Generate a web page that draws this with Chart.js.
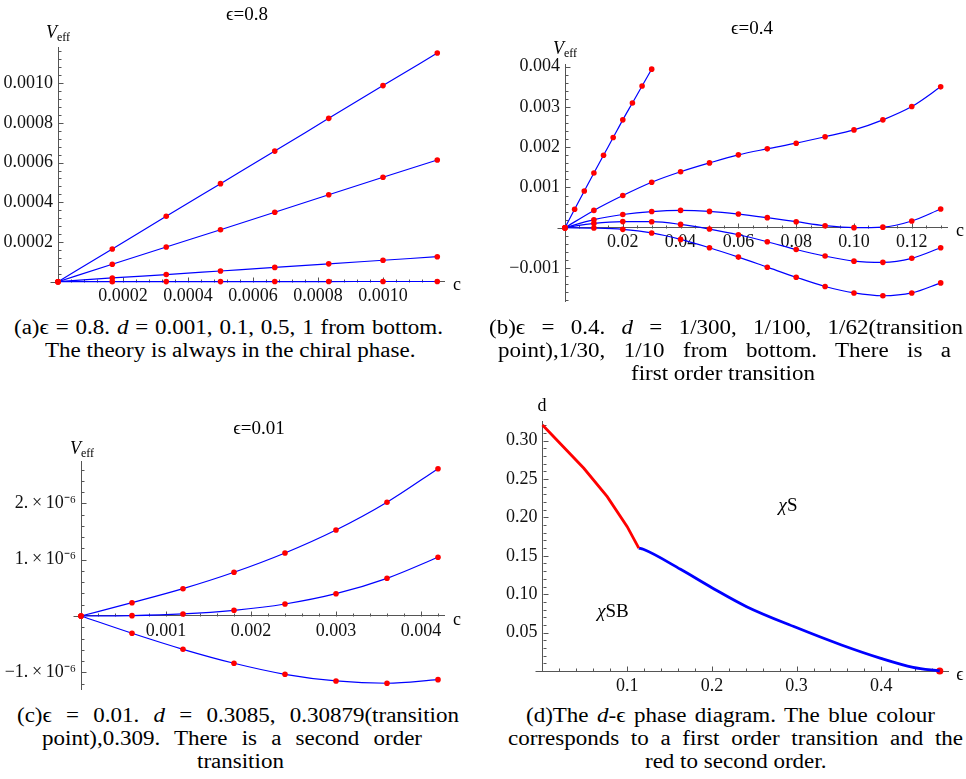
<!DOCTYPE html>
<html>
<head>
<meta charset="utf-8">
<script src="https://cdn.jsdelivr.net/npm/chart.js@4.4.1/dist/chart.umd.min.js"></script>
<style>
  body { margin: 0; width: 966px; height: 779px; position: relative; overflow: hidden; background: #fff;
         font-family: "Liberation Serif", "Times New Roman", serif; color: #000; }
  .panel { position: absolute; width: 483px; height: 310px; }
  .lbl { position: absolute; white-space: nowrap; transform: translate(-50%, -50%); font-size: 18px; line-height: 1; }
  .lbl sub { font-size: 12px; vertical-align: -3px; }
  .ttl { font-size: 19px; }
  .cap { position: absolute; font-size: 20px; line-height: 23px; white-space: nowrap; transform-origin: 0 0; }
</style>
</head>
<body>

<div class="panel" style="left:0;top:0"><canvas id="chartA" width="483" height="310"></canvas></div>
<div class="panel" style="left:483px;top:0"><canvas id="chartB" width="483" height="310"></canvas></div>
<div class="panel" style="left:0;top:390px"><canvas id="chartC" width="483" height="310"></canvas></div>
<div class="panel" style="left:483px;top:390px"><canvas id="chartD" width="483" height="310"></canvas></div>

<div class="lbl ttl" style="left:247px;top:13px">ϵ=0.8</div>
<div class="lbl" style="left:58px;top:33px"><i>V</i><sub>eff</sub></div>
<div class="lbl" style="left:457px;top:284px">c</div>

<div class="lbl ttl" style="left:752px;top:27px">ϵ=0.4</div>
<div class="lbl" style="left:565px;top:49px"><i>V</i><sub>eff</sub></div>
<div class="lbl" style="left:960px;top:230px">c</div>

<div class="lbl ttl" style="left:259px;top:427px">ϵ=0.01</div>
<div class="lbl" style="left:82px;top:449px"><i>V</i><sub>eff</sub></div>
<div class="lbl" style="left:457px;top:619px">c</div>

<div class="lbl" style="left:542px;top:405px">d</div>
<div class="lbl" style="left:960px;top:674px">ϵ</div>
<div class="lbl" style="left:788px;top:504px;font-size:19px"><i>χ</i>S</div>
<div class="lbl" style="left:613px;top:610px;font-size:19px"><i>χ</i>SB</div>

<div class="cap" style="top:316px" data-cx="228" data-w="429">(a)ϵ = 0.8. <i>d</i> = 0.001, 0.1, 0.5, 1 from bottom.</div>
<div class="cap" style="top:339px" data-cx="230">The theory is always in the chiral phase.</div>

<div class="cap" style="top:316px" data-cx="726" data-w="474">(b)ϵ = 0.4. <i>d</i> = 1/300, 1/100, 1/62(transition</div>
<div class="cap" style="top:339px" data-cx="724" data-w="453">point),1/30, 1/10 from bottom. There is a</div>
<div class="cap" style="top:362px" data-cx="723">first order transition</div>

<div class="cap" style="top:704px" data-cx="238" data-w="442">(c)ϵ = 0.01. <i>d</i> = 0.3085, 0.30879(transition</div>
<div class="cap" style="top:727px" data-cx="232" data-w="380">point),0.309. There is a second order</div>
<div class="cap" style="top:750px" data-cx="240">transition</div>

<div class="cap" style="top:704px" data-cx="730" data-w="409">(d)The <i>d</i>-ϵ phase diagram. The blue colour</div>
<div class="cap" style="top:727px" data-cx="735" data-w="455">corresponds to a first order transition and the</div>
<div class="cap" style="top:750px" data-cx="736">red to second order.</div>

<script>
// ---- (a) eps = 0.8 ----
const aC = [0, 0.000167, 0.000333, 0.0005, 0.000667, 0.000833, 0.001, 0.001167];
const aV001 = [0, 0.0000002, 0.0000004, 0.0000005, 0.0000007, 0.0000008, 0.000001, 0.0000011];
const aV01 = [0, 0.000019, 0.000036, 0.000054, 0.000072, 0.00009, 0.000108, 0.000126];
const aV05 = [0, 0.000088, 0.000175, 0.000262, 0.00035, 0.000438, 0.000526, 0.000613];
const aV1 = [0, 0.000165, 0.00033, 0.000494, 0.000658, 0.000823, 0.000988, 0.001152];
const aXTicks = [0.0002, 0.0004, 0.0006, 0.0008, 0.001];
const aXLabels = ['0.0002', '0.0004', '0.0006', '0.0008', '0.0010'];
const aYTicks = [0.0002, 0.0004, 0.0006, 0.0008, 0.001];
const aYLabels = ['0.0002', '0.0004', '0.0006', '0.0008', '0.0010'];

// ---- (b) eps = 0.4 ----
const bC = [0, 0.01, 0.02, 0.03, 0.04, 0.05, 0.06, 0.07, 0.08, 0.09, 0.10, 0.11, 0.12, 0.13];
const bCSteep = [0, 0.00333, 0.00667, 0.01, 0.01333, 0.01667, 0.02, 0.02333, 0.02667, 0.03];
const bV300 = [0, -0.000008, -0.00004, -0.00013, -0.00029, -0.000497, -0.00073, -0.00098, -0.00123, -0.00146, -0.00162, -0.00169, -0.00162, -0.00137];
const bV100 = [0, 0.000108, 0.000152, 0.00015, 0.000083, -0.000033, -0.000174, -0.000348, -0.00054, -0.000704, -0.00083, -0.00086, -0.00076, -0.000497];
const bV62 = [0, 0.0002, 0.000328, 0.000402, 0.00043, 0.000406, 0.00034, 0.00025, 0.00015, 0.00005, 0.000002, 0.000015, 0.000166, 0.000464];
const bV30 = [0, 0.00043, 0.0008, 0.00113, 0.00139, 0.00161, 0.00181, 0.00196, 0.0021, 0.00226, 0.00243, 0.00268, 0.00301, 0.0035];
const bV10 = [0, 0.00046, 0.000912, 0.00136, 0.0018, 0.00224, 0.00268, 0.0031, 0.00352, 0.00394];
const bXTicks = [0.02, 0.04, 0.06, 0.08, 0.10, 0.12];
const bXLabels = ['0.02', '0.04', '0.06', '0.08', '0.10', '0.12'];
const bYTicks = [-0.001, 0.001, 0.002, 0.003, 0.004];
const bYLabels = ['\u22120.001', '0.001', '0.002', '0.003', '0.004'];

// ---- (c) eps = 0.01 ----
const cC = [0, 0.0006, 0.0012, 0.0018, 0.0024, 0.003, 0.0036, 0.0042];
const cV3085 = [0, -0.307e-6, -0.592e-6, -0.84e-6, -1.036e-6, -1.154e-6, -1.195e-6, -1.131e-6];
const cV30879 = [0, 0.006e-6, 0.036e-6, 0.101e-6, 0.213e-6, 0.396e-6, 0.669e-6, 1.042e-6];
const cV309 = [0, 0.236e-6, 0.485e-6, 0.776e-6, 1.119e-6, 1.527e-6, 2.02e-6, 2.616e-6];
const cXTicks = [0.001, 0.002, 0.003, 0.004];
const cXLabels = ['0.001', '0.002', '0.003', '0.004'];
const cYTicks = [-1e-6, 1e-6, 2e-6];
const cYLabels = ['\u22121.\u2009\u00d7\u200910\u207b\u2076', '1.\u2009\u00d7\u200910\u207b\u2076', '2.\u2009\u00d7\u200910\u207b\u2076'];

// ---- (d) phase diagram ----
const secondEps = [0, 0.0488, 0.0764, 0.100, 0.1137];
const secondD = [0.3203, 0.264, 0.227, 0.188, 0.160];
const firstEps = [0.1137, 0.119, 0.163, 0.200, 0.241, 0.299, 0.353, 0.3995, 0.4376, 0.469];
const firstD = [0.160, 0.1585, 0.1324, 0.1085, 0.0838, 0.0569, 0.0339, 0.0165, 0.0048, 0];
const endEps = [0.469];
const endD = [0];
const dXTicks = [0.1, 0.2, 0.3, 0.4];
const dXLabels = ['0.1', '0.2', '0.3', '0.4'];
const dYTicks = [0.05, 0.10, 0.15, 0.20, 0.25, 0.30];
const dYLabels = ['0.05', '0.10', '0.15', '0.20', '0.25', '0.30'];

const AXIS = '#555';
const BLUE = '#0000ff';
const RED = '#ff0000';
const CAPTION_STRETCH = 1.15;

// caption lines: same glyph stretch everywhere; full lines get wider word gaps, the last line is centred
document.querySelectorAll('.cap').forEach((el) => {
  const natural = el.getBoundingClientRect().width;
  const s = CAPTION_STRETCH;
  const target = Number(el.dataset.w) || natural * s;
  const gaps = (el.textContent.match(/ /g) || []).length;
  if (target > natural * s && gaps) {
    el.style.wordSpacing = ((target / s - natural) / gaps) + 'px';
    el.style.transform = `scaleX(${s})`;
  } else {
    el.style.transform = `scaleX(${target / natural})`;
  }
  el.style.left = (Number(el.dataset.cx) - target / 2) + 'px';
});

Chart.defaults.font.family = '"Liberation Serif", "Times New Roman", serif';
Chart.defaults.font.size = 18;
Chart.defaults.color = '#111';
Chart.defaults.animation = false;

// Mathematica-style ticks: short marks pointing into the plot, longer at labelled values
const tickMarks = {
  id: 'tickMarks',
  beforeDatasetsDraw(chart) {
    const { ctx, scales: { x, y } } = chart;
    const x0 = Math.round(x.getPixelForValue(0)) + 0.5;
    const y0 = Math.round(y.getPixelForValue(0)) + 0.5;
    ctx.save();
    ctx.strokeStyle = AXIS;
    ctx.lineWidth = 1;
    ctx.beginPath();
    ctx.moveTo(x0 - 8, y0);
    ctx.lineTo(x0, y0);
    x.ticks.forEach((t) => {
      if (t.value === 0) return;
      const px = Math.round(x.getPixelForValue(t.value)) + 0.5;
      ctx.moveTo(px, y0);
      ctx.lineTo(px, y0 - (t.label ? 5 : 3));
    });
    y.ticks.forEach((t) => {
      if (t.value === 0) return;
      const py = Math.round(y.getPixelForValue(t.value)) + 0.5;
      ctx.moveTo(x0, py);
      ctx.lineTo(x0 + (t.label ? 5 : 3), py);
    });
    ctx.stroke();
    ctx.restore();
  }
};

const tickList = (major, minorStep, min, max) => {
  const out = major.map((v) => ({ value: v }));
  const k0 = Math.ceil(min / minorStep - 1e-9);
  const k1 = Math.floor(max / minorStep + 1e-9);
  for (let k = k0; k <= k1; k++) {
    const v = k * minorStep;
    if (k === 0 || major.some((m) => Math.abs(m - v) < minorStep * 0.01)) continue;
    out.push({ value: v });
  }
  return out.sort((a, b) => a.value - b.value);
};

const labelFor = (major, labels) => (value) => {
  const tol = Math.abs(major[major.length - 1]) * 1e-6;
  const i = major.findIndex((m) => Math.abs(m - value) < tol);
  return i < 0 ? '' : labels[i];
};

const hidden = { display: true, drawOnChartArea: false, drawTicks: false, color: 'rgba(0,0,0,0)' };

const buildScales = (p) => ({
  x: {
    type: 'linear',
    position: { y: 0 },
    min: p.x[0],
    max: p.x[1],
    bounds: 'data',
    grid: hidden,
    border: { color: AXIS, width: 1 },
    ticks: { autoSkip: false, maxRotation: 0, padding: 4, callback: labelFor(p.xMajor, p.xLabels) },
    afterBuildTicks: (s) => { s.ticks = tickList(p.xMajor, p.xMinor, p.x[0], p.x[1]); },
    afterFit: (s) => { s.paddingLeft = 0; s.paddingRight = 0; }
  },
  y: {
    type: 'linear',
    position: 'left',
    min: p.y[0],
    max: p.y[1],
    bounds: 'data',
    grid: hidden,
    border: { color: AXIS, width: 1 },
    ticks: { autoSkip: false, padding: 5, callback: labelFor(p.yMajor, p.yLabels) },
    afterBuildTicks: (s) => { s.ticks = tickList(p.yMajor, p.yMinor, p.y[0], p.y[1]); },
    afterFit: (s) => { s.width = p.leftW; s.paddingTop = 0; s.paddingBottom = 0; }
  }
});

const series = (xs, ys, extra = {}) => Object.assign({
  data: xs.map((x, i) => ({ x, y: ys[i] })),
  borderColor: BLUE,
  borderWidth: 1.2,
  pointBackgroundColor: RED,
  pointBorderWidth: 0,
  pointRadius: 2.8,
  clip: false,
  cubicInterpolationMode: 'monotone'
}, extra);

// area = plot box in page pixels, origin = top-left of the panel on the page
const makePanel = (id, origin, area, p, datasets) => {
  p.leftW = area.left - origin[0];
  new Chart(document.getElementById(id), {
    type: 'line',
    data: { datasets },
    options: {
      responsive: false,
      devicePixelRatio: 1,
      layout: {
        padding: {
          left: 0,
          top: area.top - origin[1],
          right: origin[0] + 483 - area.right,
          bottom: origin[1] + 310 - area.bottom
        }
      },
      plugins: { legend: { display: false }, tooltip: { enabled: false } },
      scales: buildScales(p)
    },
    plugins: [tickMarks]
  });
};

makePanel('chartA', [0, 0], { left: 58, top: 47.5, right: 444.75, bottom: 281.7 }, {
  x: [0, 0.00119], xMajor: aXTicks, xLabels: aXLabels, xMinor: 0.00004,
  y: [0, 0.00118], yMajor: aYTicks, yLabels: aYLabels, yMinor: 0.00004
}, [
  series(aC, aV001),
  series(aC, aV01),
  series(aC, aV05),
  series(aC, aV1)
]);

makePanel('chartB', [483, 0], { left: 565, top: 64.7, right: 947.9, bottom: 301.8 }, {
  x: [0, 0.1325], xMajor: bXTicks, xLabels: bXLabels, xMinor: 0.005,
  y: [-0.00184, 0.00405], yMajor: bYTicks, yLabels: bYLabels, yMinor: 0.0002
}, [
  series(bC, bV300),
  series(bC, bV100),
  series(bC, bV62),
  series(bC, bV30),
  series(bCSteep, bV10)
]);

makePanel('chartC', [0, 390], { left: 81, top: 461.7, right: 444.8, bottom: 689.75 }, {
  x: [0, 0.00428], xMajor: cXTicks, xLabels: cXLabels, xMinor: 0.0002,
  y: [-1.31e-6, 2.74e-6], yMajor: cYTicks, yLabels: cYLabels, yMinor: 0.2e-6
}, [
  series(cC, cV3085),
  series(cC, cV30879),
  series(cC, cV309)
]);

makePanel('chartD', [483, 390], { left: 542.5, top: 421.4, right: 948.2, bottom: 671 }, {
  x: [0, 0.479], xMajor: dXTicks, xLabels: dXLabels, xMinor: 0.02,
  y: [0, 0.325], yMajor: dYTicks, yLabels: dYLabels, yMinor: 0.01
}, [
  series(secondEps, secondD, { borderColor: RED, borderWidth: 2.8, pointRadius: 0, cubicInterpolationMode: 'default', tension: 0 }),
  series(firstEps, firstD, { borderWidth: 2.8, pointRadius: 0 }),
  series(endEps, endD, { pointRadius: 3.6, showLine: false })
]);
</script>
</body>
</html>
